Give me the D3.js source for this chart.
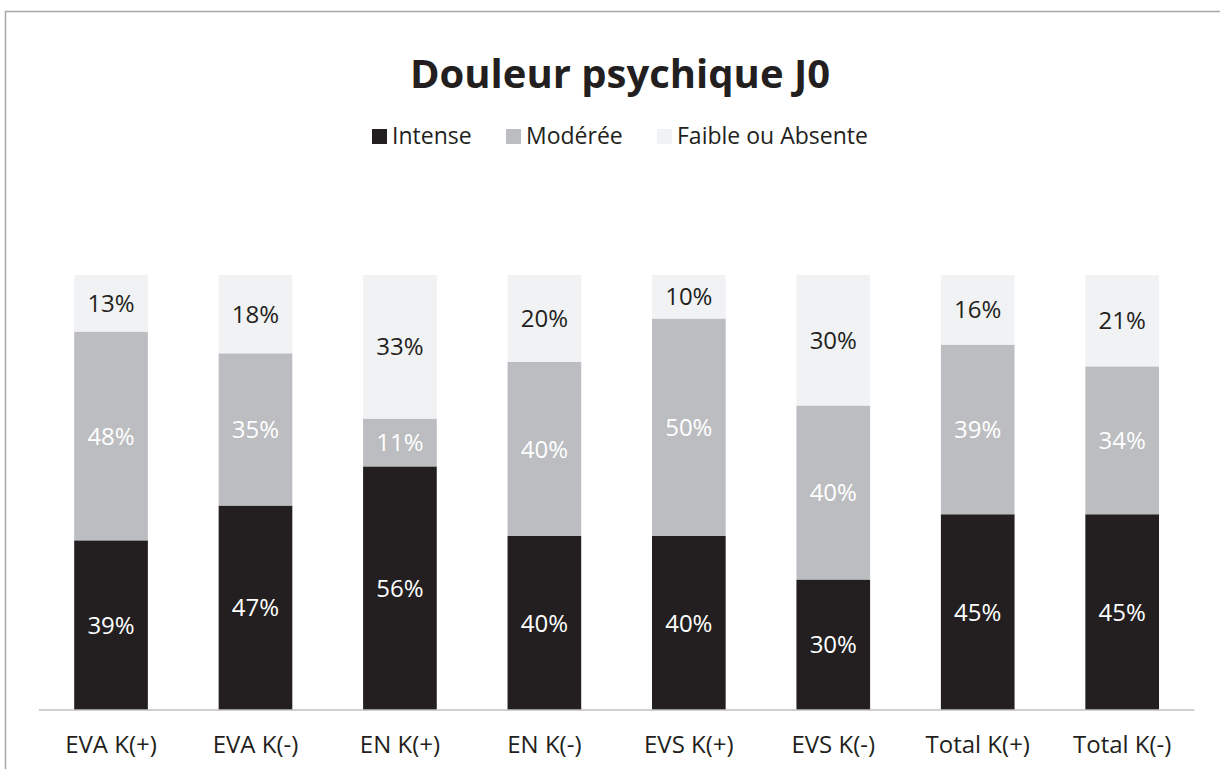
<!DOCTYPE html>
<html>
<head>
<meta charset="utf-8">
<script src="https://cdn.jsdelivr.net/npm/d3@7"></script>
<style>
  body { margin: 0; background: #fff; }
  svg text { font-family: 'Open Sans', sans-serif; }
</style>
</head>
<body>
<svg id="canvas" width="1220" height="769"></svg>
<script>
let categories = ['EVA K(+)', 'EVA K(-)', 'EN K(+)', 'EN K(-)', 'EVS K(+)', 'EVS K(-)', 'Total K(+)', 'Total K(-)'];
let seriesNames = ['Intense', 'Modérée', 'Faible ou Absente'];
let intense = [39, 47, 56, 40, 40, 30, 45, 45];
let moderee = [48, 35, 11, 40, 50, 40, 39, 34];
let faible = [13, 18, 33, 20, 10, 30, 16, 21];

let colors = ['#231f20', '#bcbdc0', '#f1f2f4'];
let labelColors = ['#ffffff', '#ffffff', '#231f20'];

let canvas = d3.select('#canvas');

// frame
canvas.append('path')
  .attr('d', 'M5.5,769 L5.5,11.5 L1220,11.5')
  .attr('fill', 'none')
  .attr('stroke', '#a6a6a6')
  .attr('stroke-width', 1.5);

let rows = categories.map((c, i) => {
  return { category: c, 'Intense': intense[i], 'Modérée': moderee[i], 'Faible ou Absente': faible[i] };
});

let stack = d3.stack().keys(seriesNames);
let layers = stack(rows);

let xScale = d3.scaleBand()
  .domain(categories)
  .range([38.8, 1194.4])
  .paddingInner(0.49)
  .paddingOuter(0.245);

let yScale = d3.scaleLinear()
  .domain([0, 100])
  .range([710, 275]);

let layer = canvas.selectAll('g.layer')
  .data(layers)
  .enter()
  .append('g')
  .attr('class', 'layer');

layer.each(function (series, si) {
  let g = d3.select(this);

  g.selectAll('rect')
    .data(series)
    .enter()
    .append('rect')
    .attr('x', (d) => xScale(d.data.category))
    .attr('y', (d) => yScale(d[1]))
    .attr('width', xScale.bandwidth())
    .attr('height', (d) => yScale(d[0]) - yScale(d[1]))
    .attr('fill', colors[si]);

  g.selectAll('text')
    .data(series)
    .enter()
    .append('text')
    .attr('x', (d) => xScale(d.data.category) + xScale.bandwidth() / 2)
    .attr('y', (d) => (yScale(d[0]) + yScale(d[1])) / 2)
    .attr('dy', '0.36em')
    .attr('text-anchor', 'middle')
    .attr('font-size', 24)
    .attr('fill', labelColors[si])
    .text((d) => Math.round(d[1] - d[0]) + '%');
});

// x axis
let xAxis = d3.axisBottom(xScale).tickSize(0).tickPadding(26);
let axisG = canvas.append('g')
  .attr('transform', 'translate(0,710)')
  .call(xAxis);
axisG.select('.domain')
  .attr('stroke', '#bfbfbf')
  .attr('stroke-width', 1.5)
  .attr('d', 'M38.8,0H1194.4');
axisG.selectAll('.tick text')
  .attr('font-size', 24)
  .attr('fill', '#231f20')
  .attr('font-family', "'Open Sans', sans-serif");

// title
canvas.append('text')
  .attr('x', 620)
  .attr('y', 88)
  .attr('text-anchor', 'middle')
  .attr('font-size', 40)
  .attr('font-weight', 'bold')
  .attr('fill', '#231f20')
  .text('Douleur psychique J0');

// legend
let legendX = [372, 506, 657];
let legend = canvas.selectAll('g.legend')
  .data(seriesNames)
  .enter()
  .append('g')
  .attr('class', 'legend')
  .attr('transform', (d, i) => 'translate(' + legendX[i] + ',129)');

legend.append('rect')
  .attr('width', 15)
  .attr('height', 15)
  .attr('fill', (d, i) => colors[i]);

legend.append('text')
  .attr('x', 20)
  .attr('y', 15)
  .attr('font-size', 23)
  .attr('fill', '#231f20')
  .text((d) => d);
</script>
</body>
</html>
